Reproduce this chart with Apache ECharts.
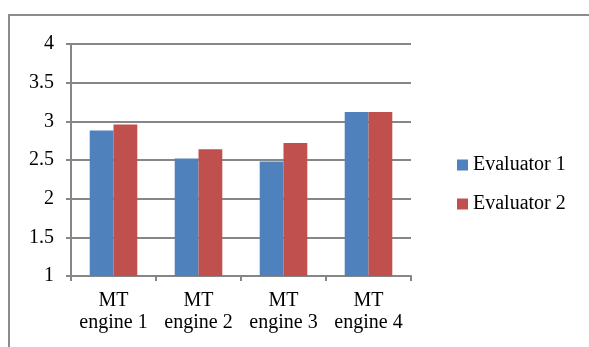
<!DOCTYPE html>
<html>
<head>
<meta charset="utf-8">
<script src="https://cdn.jsdelivr.net/npm/echarts@6/dist/echarts.min.js"></script>
<style>
  html, body { margin: 0; padding: 0; background: #fff; }
  #frame {
    position: absolute; left: 8px; top: 14px; width: 600px; height: 360px;
    border-left: 2px solid #8c8c8c; border-top: 2px solid #8c8c8c;
  }
  #chart { position: absolute; left: 0; top: 0; width: 589px; height: 347px; }
</style>
</head>
<body>
<div id="frame"></div>
<div id="chart"></div>
<script>
// data
var categories = ["MT\nengine 1", "MT\nengine 2", "MT\nengine 3", "MT\nengine 4"];
var evaluator1 = [2.88, 2.52, 2.48, 3.12];
var evaluator2 = [2.96, 2.64, 2.72, 3.12];
var seriesNames = ["Evaluator 1", "Evaluator 2"];
var colors = ["#4f81bd", "#c0504d"];

var font = "'Liberation Serif', 'Times New Roman', serif";
var chart = echarts.init(document.getElementById("chart"));
chart.setOption({
  animation: false,
  color: colors,
  textStyle: { fontFamily: font },
  grid: { left: 71, right: 178, top: 44, bottom: 71, containLabel: false },
  legend: {
    orient: "vertical",
    left: 452,
    top: 150,
    itemWidth: 11,
    itemHeight: 11,
    itemGap: 19,
    icon: "rect",
    data: seriesNames,
    textStyle: { fontFamily: font, fontSize: 20, color: "#000" }
  },
  xAxis: {
    type: "category",
    data: categories,
    axisLine: { lineStyle: { color: "#868686", width: 2 } },
    axisTick: { show: true, length: 5, lineStyle: { color: "#868686", width: 2 } },
    axisLabel: { color: "#000", fontSize: 20, lineHeight: 22, margin: 14, interval: 0, fontFamily: font }
  },
  yAxis: {
    type: "value",
    min: 1,
    max: 4,
    interval: 0.5,
    axisLine: { show: true, lineStyle: { color: "#868686", width: 2 } },
    axisTick: { show: true, length: 5, lineStyle: { color: "#868686", width: 2 } },
    splitLine: { lineStyle: { color: "#868686", width: 2 } },
    axisLabel: { color: "#000", fontSize: 20, margin: 17, fontFamily: font }
  },
  series: [
    { name: seriesNames[0], type: "bar", data: evaluator1, barWidth: "28%", barGap: "0%" },
    { name: seriesNames[1], type: "bar", data: evaluator2, barWidth: "28%", barGap: "0%" }
  ]
});
</script>
</body>
</html>
